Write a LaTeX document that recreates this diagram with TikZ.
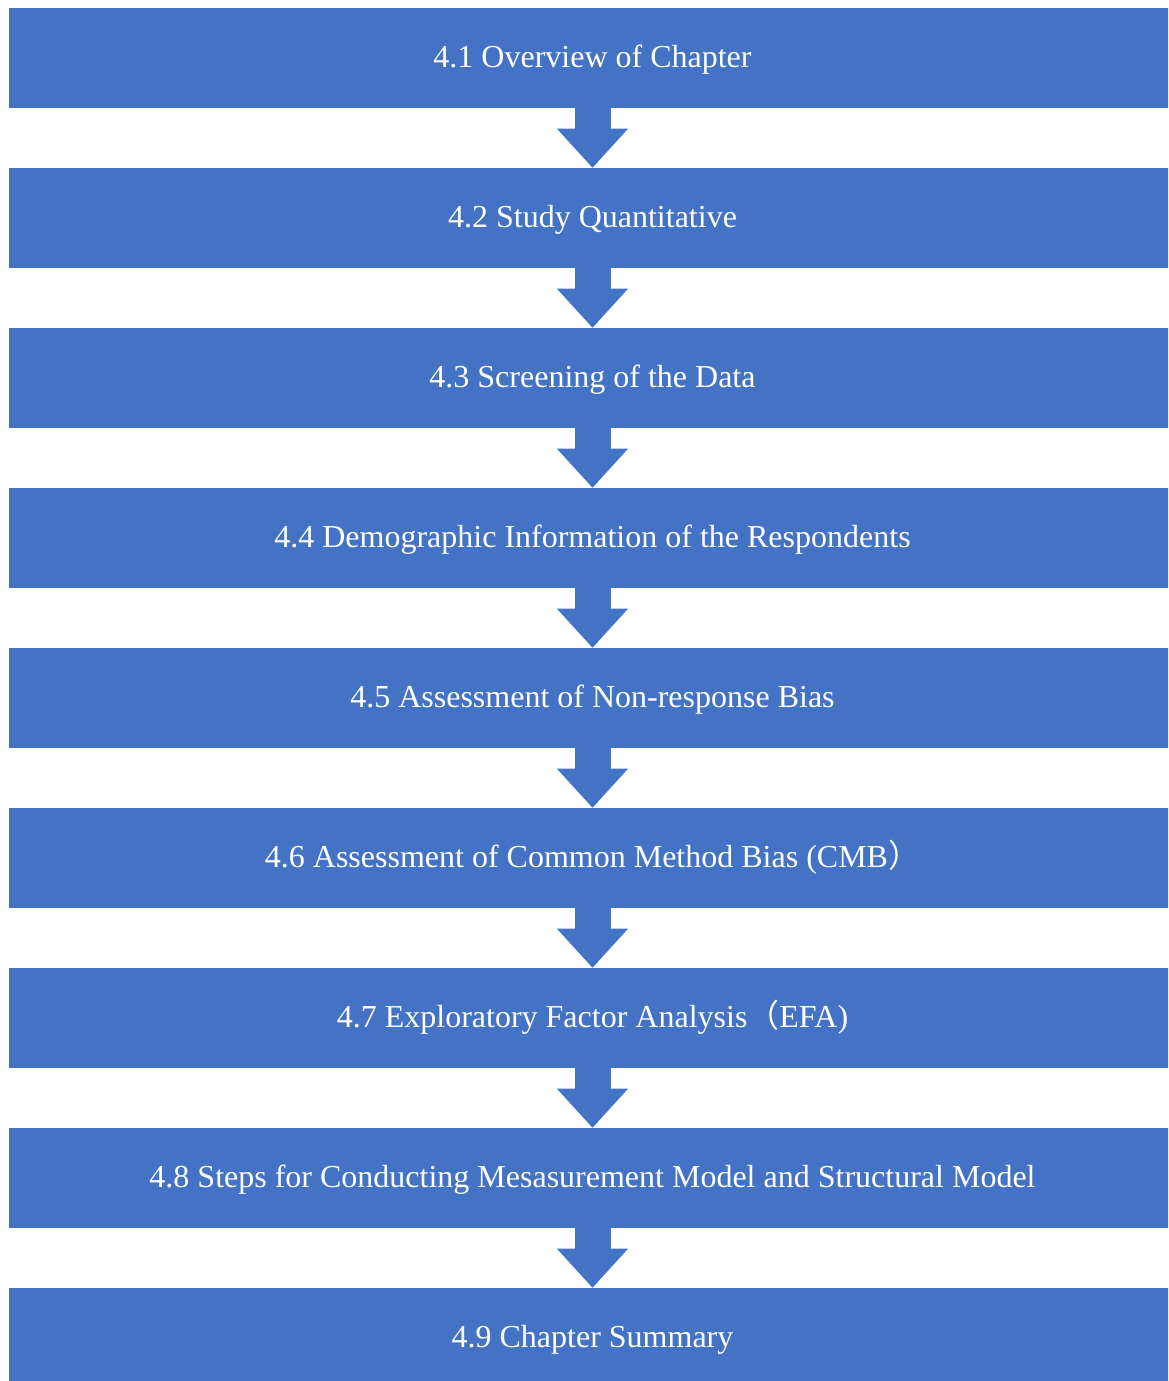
\documentclass[tikz,border=0pt]{standalone}
\usepackage{fontspec}
\setmainfont{Liberation Serif}
\newfontfamily\cjkfont{Noto Sans CJK SC}
\usetikzlibrary{arrows.meta}
\definecolor{boxblue}{HTML}{4472C4}

\begin{document}
\begin{tikzpicture}[x=0.75pt,y=-0.75pt,
  stage/.style={fill=boxblue, draw=none, text=white, inner sep=0pt,
    minimum width=875.25pt, minimum height=75pt,
    text height=19pt, text depth=5pt,
    font=\fontsize{24}{28}\selectfont},
  flow/.style={draw=boxblue, line width=27pt,
    -{Triangle[width=53.25pt,length=29.25pt,line width=0pt,fill=boxblue]}}
]
\clip (0,0) rectangle (1168,1381);

% chapter sections, one band each
\node[stage] (s1) at (592.5,58)   {4.1 Overview of Chapter};
\node[stage] (s2) at (592.5,218)  {4.2 Study Quantitative};
\node[stage] (s3) at (592.5,378)  {4.3 Screening of the Data};
\node[stage] (s4) at (592.5,538)  {4.4 Demographic Information of the Respondents};
\node[stage] (s5) at (592.5,698)  {4.5 Assessment of Non-response Bias};
\node[stage] (s6) at (592.5,858)  {4.6 Assessment of Common Method Bias (CMB{\cjkfont ）}};
\node[stage] (s7) at (592.5,1018) {4.7 Exploratory Factor Analysis{\cjkfont （}EFA)};
\node[stage] (s8) at (592.5,1178) {4.8 Steps for Conducting Mesasurement Model and Structural Model};
\node[stage] (s9) at (592.5,1338) {4.9 Chapter Summary};

% block arrows between consecutive sections
\foreach \a/\b in {s1/s2,s2/s3,s3/s4,s4/s5,s5/s6,s6/s7,s7/s8,s8/s9}
  \draw[flow] (\a.south) -- (\b.north);
\end{tikzpicture}
\end{document}
